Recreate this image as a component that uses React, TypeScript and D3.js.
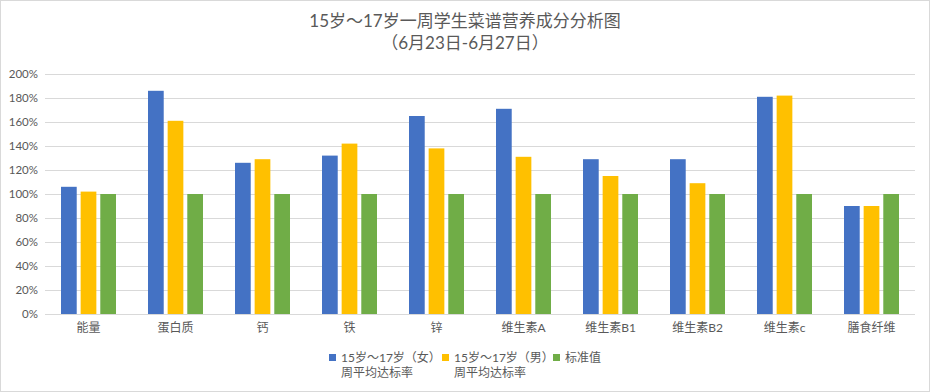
import React, { useEffect, useRef } from "react";
import * as d3 from "d3";

const categories = ["能量", "蛋白质", "钙", "铁", "锌", "维生素A", "维生素B1", "维生素B2", "维生素c", "膳食纤维"];
const girls = [106, 186, 126, 132, 165, 171, 129, 129, 181, 90];
const boys = [102, 161, 129, 142, 138, 131, 115, 109, 182, 90];
const standard = [100, 100, 100, 100, 100, 100, 100, 100, 100, 100];
const yTicks = [0, 20, 40, 60, 80, 100, 120, 140, 160, 180, 200];
const seriesNames = [
  ["15岁～17岁（女）", "周平均达标率"],
  ["15岁～17岁（男）", "周平均达标率"],
  ["标准值"],
];
const titleLines = ["15岁～17岁一周学生菜谱营养成分分析图", "（6月23日-6月27日）"];
const colors = ["#4472C4", "#FFC000", "#70AD47"];

const W = 930,
  H = 392;
const margin = { top: 74, right: 15, bottom: 78, left: 45 };
const font = "Lato, 'Noto Sans CJK SC', sans-serif";

export default function App() {
  const ref = useRef<SVGSVGElement>(null);

  useEffect(() => {
    document.body.style.margin = "0";
    const svg = d3.select(ref.current);
    svg.selectAll("*").remove();

    svg
      .append("rect")
      .attr("x", 0.5)
      .attr("y", 0.5)
      .attr("width", W - 1)
      .attr("height", H - 1)
      .attr("fill", "#fff")
      .attr("stroke", "#d9d9d9");

    const x = d3
      .scaleBand()
      .domain(categories)
      .range([margin.left, W - margin.right]);
    const x1 = d3.scaleBand().domain(["0", "1", "2"]).range([0, 55]).paddingInner(0.2);
    const y = d3
      .scaleLinear()
      .domain([0, 200])
      .range([H - margin.bottom, margin.top]);

    // grid
    svg
      .append("g")
      .selectAll("line")
      .data(yTicks)
      .join("line")
      .attr("x1", margin.left)
      .attr("x2", W - margin.right)
      .attr("y1", (d) => Math.round(y(d)) + 0.5)
      .attr("y2", (d) => Math.round(y(d)) + 0.5)
      .attr("stroke", "#d9d9d9")
      .attr("stroke-width", 1);

    svg
      .append("g")
      .selectAll("text")
      .data(yTicks)
      .join("text")
      .attr("x", 38)
      .attr("y", (d) => y(d))
      .attr("dy", "0.35em")
      .attr("text-anchor", "end")
      .attr("font-family", font)
      .attr("font-size", 11.5)
      .attr("fill", "#595959")
      .text((d) => d + "%");

    const data = [girls, boys, standard];
    data.forEach((vals, si) => {
      svg
        .append("g")
        .selectAll("rect")
        .data(vals)
        .join("rect")
        .attr("x", (d, i) => x(categories[i])! + (x.bandwidth() - 55) / 2 + x1(String(si))!)
        .attr("width", x1.bandwidth())
        .attr("y", (d) => y(d))
        .attr("height", (d) => y(0) - y(d))
        .attr("fill", colors[si]);
    });

    svg
      .append("g")
      .selectAll("text")
      .data(categories)
      .join("text")
      .attr("x", (d) => x(d)! + x.bandwidth() / 2)
      .attr("y", 328)
      .attr("dy", "0.35em")
      .attr("text-anchor", "middle")
      .attr("font-family", font)
      .attr("font-size", 12)
      .attr("fill", "#595959")
      .text((d) => d);

    // title
    titleLines.forEach((l, k) => {
      svg
        .append("text")
        .attr("x", W / 2)
        .attr("y", 27 + k * 22)
        .attr("text-anchor", "middle")
        .attr("font-family", font)
        .attr("fill", "#595959")
        .attr("font-size", 17)
        .text(l);
    });

    // legend
    const legendX = [329, 442, 553];
    seriesNames.forEach((lines, i) => {
      const g = svg.append("g");
      g.append("rect")
        .attr("x", legendX[i])
        .attr("y", 354)
        .attr("width", 7)
        .attr("height", 7)
        .attr("fill", colors[i]);
      lines.forEach((l, k) => {
        g.append("text")
          .attr("x", legendX[i] + 12)
          .attr("y", 362 + k * 15)
          .attr("font-family", font)
          .attr("font-size", 12)
          .attr("fill", "#595959")
          .text(l);
      });
    });
  }, []);

  return <svg ref={ref} width={W} height={H} style={{ display: "block" }} />;
}
